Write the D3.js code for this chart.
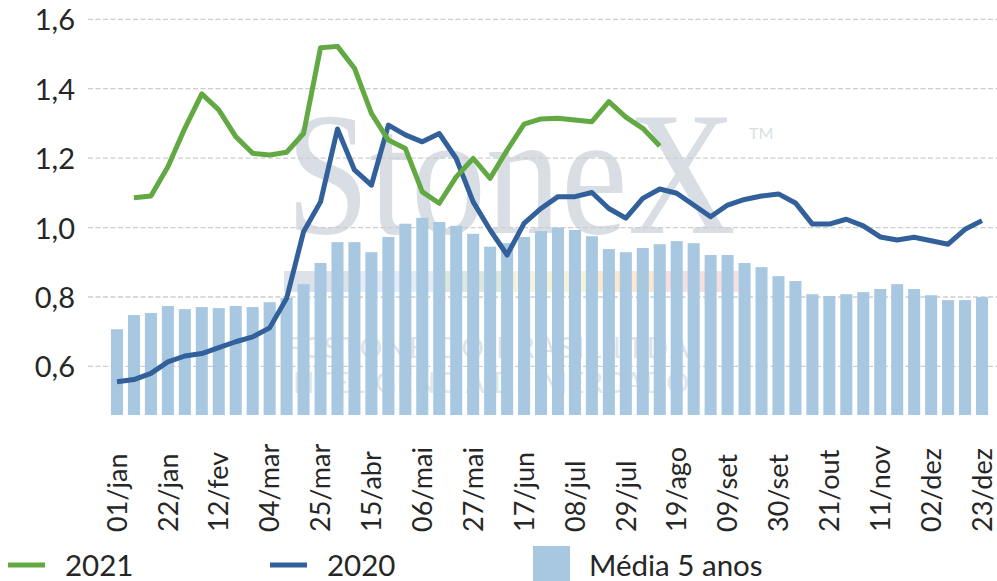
<!DOCTYPE html>
<html lang="pt">
<head>
<meta charset="utf-8">
<script src="https://cdn.jsdelivr.net/npm/d3@7/dist/d3.min.js"></script>
<style>
  html, body { margin: 0; padding: 0; background: #fff; }
  svg { display: block; }
  text { font-family: Lato, "Open Sans", sans-serif; fill: #262626; }
</style>
</head>
<body>
<svg id="chart" width="997" height="581"></svg>
<script>
// Weekly categories (one per week of the year)
const weeks = [
  "01/jan","08/jan","15/jan","22/jan","29/jan","05/fev","12/fev","19/fev","26/fev",
  "04/mar","11/mar","18/mar","25/mar","01/abr","08/abr","15/abr","22/abr","29/abr",
  "06/mai","13/mai","20/mai","27/mai","03/jun","10/jun","17/jun","24/jun","01/jul",
  "08/jul","15/jul","22/jul","29/jul","05/ago","12/ago","19/ago","26/ago","02/set",
  "09/set","16/set","23/set","30/set","07/out","14/out","21/out","28/out","04/nov",
  "11/nov","18/nov","25/nov","02/dez","09/dez","16/dez","23/dez"
];

// Five-year average (bars)
const media5 = [
  0.707, 0.748, 0.754, 0.774, 0.765, 0.771, 0.768, 0.774, 0.771, 0.785,
  0.797, 0.837, 0.898, 0.958, 0.958, 0.929, 0.973, 1.011, 1.028, 1.016,
  1.005, 0.982, 0.945, 0.955, 0.973, 0.990, 1.000, 0.993, 0.975, 0.938,
  0.929, 0.941, 0.952, 0.961, 0.955, 0.921, 0.921, 0.898, 0.886, 0.860,
  0.846, 0.808, 0.803, 0.808, 0.814, 0.823, 0.837, 0.823, 0.805, 0.791,
  0.791, 0.800
];

// 2020 series
const s2020 = [
  0.556, 0.562, 0.580, 0.613, 0.630, 0.637, 0.654, 0.671, 0.685, 0.711,
  0.796, 0.988, 1.074, 1.284, 1.166, 1.122, 1.295, 1.267, 1.247, 1.271,
  1.199, 1.074, 0.993, 0.921, 1.012, 1.055, 1.089, 1.089, 1.101, 1.055,
  1.027, 1.084, 1.111, 1.099, 1.065, 1.031, 1.065, 1.081, 1.091, 1.097,
  1.071, 1.010, 1.010, 1.024, 1.005, 0.973, 0.964, 0.972, 0.962, 0.952,
  0.995, 1.020
];

// 2021 series (available weeks only)
const s2021 = [
  null, 1.086, 1.091, 1.175, 1.286, 1.385, 1.339, 1.262, 1.214, 1.209,
  1.217, 1.271, 1.518, 1.522, 1.459, 1.329, 1.252, 1.228, 1.103, 1.070,
  1.146, 1.199, 1.142, 1.223, 1.298, 1.313, 1.315, 1.310, 1.305, 1.363,
  1.318, 1.286, 1.235
];

const yTicks = [0.6, 0.8, 1.0, 1.2, 1.4, 1.6];

const colors = { y2021: "#62a843", y2020: "#31609a", bars: "#a8c8e1", grid: "#cdcdcd" };

const svg = d3.select("#chart");

const x = d3.scalePoint().domain(d3.range(weeks.length)).range([117, 982]);
const barW = x.step() * 0.71;
const y = d3.scaleLinear().domain([0.46, 1.6]).range([415, 19.3]);

// Background logo mark
const wm = svg.append("g").attr("class", "logo");
const bandColors = ["#dde2ea", "#e4ecf5", "#dde7df", "#f5f3dc", "#fbe8d3", "#f6dfe0"];
const bandX = d3.scaleBand().domain(d3.range(bandColors.length)).range([284, 738]);
wm.selectAll("rect.band").data(bandColors).join("rect")
  .attr("x", (d, i) => bandX(i)).attr("y", 271)
  .attr("width", bandX.bandwidth() + 0.5).attr("height", 21)
  .attr("fill", d => d);
wm.append("text")
  .attr("transform", "translate(286,233) scale(1,1.17)")
  .style("font-family", "'Liberation Serif', 'DejaVu Serif', serif")
  .style("font-size", "150px").style("fill", "#d9dee5")
  .text("StoneX");
wm.append("text")
  .attr("x", 749).attr("y", 139)
  .style("font-size", "16px").style("fill", "#d9dee5")
  .text("TM");
wm.append("text")
  .attr("x", 284).attr("y", 358)
  .attr("textLength", 405).attr("lengthAdjust", "spacing")
  .style("font-size", "28px").style("fill", "#dfe2e7")
  .text("FCSTONE DO BRASIL LTDA");
wm.append("text")
  .attr("x", 284).attr("y", 393)
  .attr("textLength", 405).attr("lengthAdjust", "spacing")
  .style("font-size", "28px").style("fill", "#e2e5e9")
  .text("INTELIGÊNCIA DE MERCADO");

// Horizontal gridlines
svg.append("g").selectAll("line").data(yTicks).join("line")
  .attr("x1", 88).attr("x2", 997)
  .attr("y1", d => y(d)).attr("y2", d => y(d))
  .attr("stroke", colors.grid).attr("stroke-width", 1.3)
  .attr("stroke-dasharray", "5,2.5");

// Y axis labels
const yAxis = d3.axisLeft(y).tickValues(yTicks).tickSize(0).tickPadding(0)
  .tickFormat(d => d3.format(".1f")(d).replace(".", ","));
svg.append("g").attr("transform", "translate(75,0)").call(yAxis)
  .call(g => g.select(".domain").remove())
  .call(g => g.selectAll("text")
    .attr("dy", "0.36em")
    .style("font-family", "Lato, sans-serif")
    .style("font-size", "29px").style("fill", "#262626"));

// Bars: five-year average
svg.append("g").selectAll("rect").data(media5).join("rect")
  .attr("x", (d, i) => x(i) - barW / 2)
  .attr("width", barW)
  .attr("y", d => y(d))
  .attr("height", d => y(0.46) - y(d))
  .attr("fill", colors.bars);

// Lines
const line = d3.line()
  .defined(d => d != null)
  .x((d, i) => x(i))
  .y(d => y(d));

svg.append("path").datum(s2020)
  .attr("d", line).attr("fill", "none")
  .attr("stroke", colors.y2020).attr("stroke-width", 5)
  .attr("stroke-linejoin", "round");

svg.append("path").datum(s2021)
  .attr("d", line).attr("fill", "none")
  .attr("stroke", colors.y2021).attr("stroke-width", 5)
  .attr("stroke-linejoin", "round");

// X axis labels, every third week, rotated
const xAxis = d3.axisBottom(x)
  .tickValues(d3.range(0, weeks.length, 3))
  .tickFormat(i => weeks[i]).tickSize(0);
svg.append("g").attr("transform", "translate(0,532)").call(xAxis)
  .call(g => g.select(".domain").remove())
  .call(g => g.selectAll("text")
    .attr("transform", "rotate(-90)")
    .attr("x", 0).attr("y", 0).attr("dy", "0.34em")
    .attr("text-anchor", "start")
    .style("font-family", "Lato, sans-serif")
    .style("font-size", "27px").style("fill", "#262626"));

// Legend
const legend = svg.append("g").attr("class", "legend");
const legendItems = [
  { label: "2021", type: "line", color: colors.y2021, x: 8, tx: 65 },
  { label: "2020", type: "line", color: colors.y2020, x: 270, tx: 327 },
  { label: "Média 5 anos", type: "rect", color: colors.bars, x: 533, tx: 589 }
];
legendItems.forEach(it => {
  if (it.type === "line") {
    legend.append("line")
      .attr("x1", it.x).attr("x2", it.x + 37)
      .attr("y1", 565).attr("y2", 565)
      .attr("stroke", it.color).attr("stroke-width", 5);
  } else {
    legend.append("rect")
      .attr("x", it.x).attr("y", 546).attr("width", 37).attr("height", 40)
      .attr("fill", it.color);
  }
  legend.append("text")
    .attr("x", it.tx).attr("y", 576)
    .style("font-size", "29.5px")
    .text(it.label);
});
</script>
</body>
</html>
